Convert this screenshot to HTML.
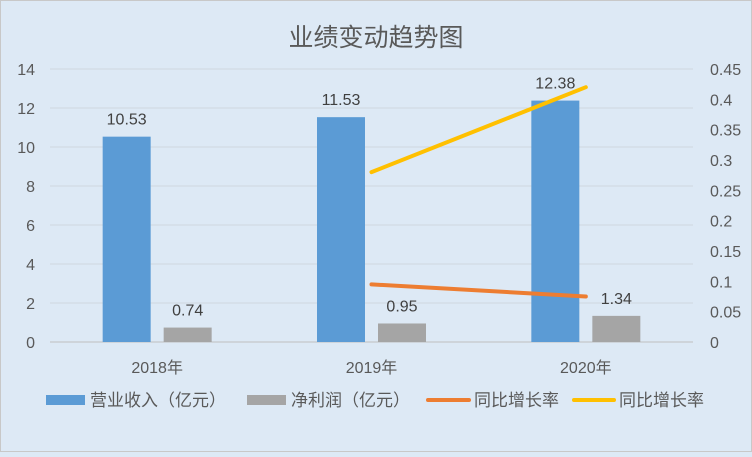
<!DOCTYPE html>
<html><head><meta charset="utf-8"><style>
html,body{margin:0;padding:0}
body{width:752px;height:452px;overflow:hidden;background:#dde9f5;font-family:"Liberation Sans","Noto Sans CJK SC",sans-serif}
</style></head><body>
<svg width="752" height="452" xmlns="http://www.w3.org/2000/svg" font-family="Liberation Sans, Noto Sans CJK SC, sans-serif">
<rect x="0.5" y="0.5" width="751" height="451" fill="#dde9f5" stroke="#c8c8c8"/>
<text x="376" y="46" text-anchor="middle" font-size="25" fill="#595959">业绩变动趋势图</text>
<g id="grid"></g><g id="bars"></g><g id="lines"></g><g id="labels"></g>
<g font-size="17" fill="#595959">
<rect x="46" y="395" width="39" height="10" fill="#5b9bd5"/>
<text x="90" y="406">营业收入（亿元）</text>
<rect x="247" y="395" width="39" height="10" fill="#a5a5a5"/>
<text x="291" y="406">净利润（亿元）</text>
<line x1="428" y1="400" x2="469" y2="400" stroke="#ed7d31" stroke-width="4" stroke-linecap="round"/>
<text x="474" y="406">同比增长率</text>
<line x1="574" y1="400" x2="614" y2="400" stroke="#ffc000" stroke-width="4" stroke-linecap="round"/>
<text x="619" y="406">同比增长率</text>
</g>
</svg>
<script>
const categories=["2018年","2019年","2020年"];
const revenue=[10.53,11.53,12.38];
const profit=[0.74,0.95,1.34];
const growthOrange=[null,0.095,0.075];
const growthYellow=[null,0.28,0.42];
const leftTicks=[0,2,4,6,8,10,12,14];
const rightTicks=[0,0.05,0.1,0.15,0.2,0.25,0.3,0.35,0.4,0.45];

const NS="http://www.w3.org/2000/svg";
const X0=50,X1=693,Y0=342,Y1=69;
const band=(X1-X0)/categories.length;
const xc=i=>X0+band*(i+0.5);
const yL=v=>Y0-(v/14)*(Y0-Y1);
const yR=v=>Y0-(v/0.45)*(Y0-Y1);
function mk(t,a,p){const e=document.createElementNS(NS,t);for(const k in a)e.setAttribute(k,a[k]);p.appendChild(e);return e;}
const grid=document.getElementById('grid'),bars=document.getElementById('bars'),lines=document.getElementById('lines'),labels=document.getElementById('labels');
leftTicks.forEach(v=>{
  const l=mk('line',{x1:X0,x2:X1,y1:yL(v),y2:yL(v),stroke:v===0?'#bfbfbf':'#d0d6de','stroke-width':1},grid);
  
  
  const t=mk('text',{x:35,y:yL(v)+6,'text-anchor':'end','font-size':16,fill:'#595959'},grid);
  t.textContent=v;
  
  
});
rightTicks.forEach(v=>{
  const t=mk('text',{x:710,y:yR(v)+6,'font-size':16,fill:'#595959'},grid);
  t.textContent=String(v);
  
  
});
const bw=48,gap=13;
categories.forEach((c,i)=>{
  const cx=xc(i);
  const bx=cx-gap/2-bw, gx=cx+gap/2;
  const b=mk('rect',{x:bx,y:yL(revenue[i]),width:bw,height:Y0-yL(revenue[i]),fill:'#5b9bd5'},bars);
  
  
  const g=mk('rect',{x:gx,y:yL(profit[i]),width:bw,height:Y0-yL(profit[i]),fill:'#a5a5a5'},bars);
  
  
  const t1=mk('text',{x:bx+bw/2,y:yL(revenue[i])-12,'text-anchor':'middle','font-size':16,fill:'#404040'},labels);
  t1.textContent=revenue[i].toFixed(2);
  
  
  const t2=mk('text',{x:gx+bw/2,y:yL(profit[i])-12,'text-anchor':'middle','font-size':16,fill:'#404040'},labels);
  t2.textContent=profit[i].toFixed(2);
  
  
  const xl=mk('text',{x:cx,y:373,'text-anchor':'middle','font-size':16,fill:'#595959'},labels);
  xl.textContent=c;
  
  
});
function drawLine(arr,color,name){
  const pts=[];arr.forEach((v,i)=>{if(v!==null)pts.push(xc(i)+','+yR(v));});
  const p=mk('polyline',{points:pts.join(' '),fill:'none',stroke:color,'stroke-width':4,'stroke-linecap':'round'},lines);
  
  
}
drawLine(growthOrange,'#ed7d31','line-growth-orange');
drawLine(growthYellow,'#ffc000','line-growth-yellow');
</script>
</body></html>
